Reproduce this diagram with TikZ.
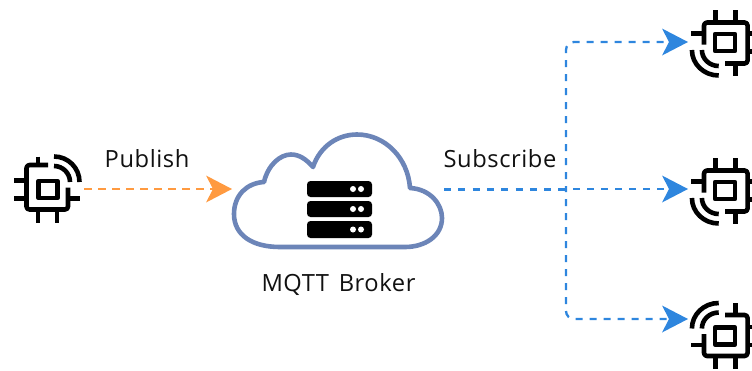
\documentclass[tikz,border=0pt]{standalone}
\usepackage{fontspec}
\setmainfont[LetterSpace=2.4]{Open Sans}
\usetikzlibrary{arrows.meta}
\definecolor{pubcol}{HTML}{FF9A40}
\definecolor{subcol}{HTML}{2E86DE}
\definecolor{cloudcol}{HTML}{6C85B8}
\definecolor{inkcol}{HTML}{111111}
\tikzset{
  chipline/.style={draw=black,line width=4.6pt,line join=round},
  pin/.style={draw=black,line width=4.6pt},
  wave/.style={draw=black,line width=4.6pt},
  pubarrow/.style={draw=pubcol,line width=2.8pt,dash pattern=on 7.5pt off 6.5pt,
    -{Stealth[length=26pt,width=27pt,inset=7pt,line width=0pt,fill=pubcol]}},
  subarrow/.style={draw=subcol,line width=2.3pt,dash pattern=on 7pt off 7pt,rounded corners=8pt,
    -{Stealth[length=26pt,width=27pt,inset=7pt,line width=0pt,fill=subcol]}},
  subtrunk/.style={draw=subcol,line width=3pt,dash pattern=on 7pt off 7.3pt},
  cloudline/.style={draw=cloudcol,line width=4.6pt,line join=round},
  serverbar/.style={fill=black,rounded corners=3.5pt},
  dot/.style={fill=white},
  lbl/.style={text=inkcol,font=\fontsize{23.7}{28}\selectfont,inner sep=0pt},
}
% x, y, xscale, yscale, far edge of the body
\newcommand{\chipicon}[5]{%
  \begin{scope}[shift={(#1,#2)},xscale=#3,yscale=#4]
    \draw[chipline,rounded corners=3pt] (0,#5) -- (-21.5,#5) -- (-21.5,20) -- (20,20) -- (20,-2);
    \draw[chipline] (-9.5,-8.5) rectangle (9.5,8.5);
    \draw[pin] (-10,-33) -- (-10,#5);
    \draw[pin] (-10,20) -- (-10,33);
    \draw[pin] (9,20) -- (9,33);
    \draw[pin] (-34,-9) -- (-21.5,-9);
    \draw[pin] (-34,9) -- (-21.5,9);
    \draw[pin] (20,9) -- (32,9);
    \draw[wave] (6,-23.5) .. controls (14.8,-23.5) and (22,-16.3) .. (22,-7.5);
    \draw[wave] (6,-33) .. controls (20.1,-33) and (31.5,-21.6) .. (31.5,-7.5);
  \end{scope}}
\begin{document}
\begin{tikzpicture}[x=1pt,y=-1pt]
\useasboundingbox (0,0) rectangle (752,370);
% icons
\chipicon{48}{189.5}{1}{1}{-24.5}
\chipicon{725}{42.5}{-1.05}{-1}{-21}
\chipicon{725}{190.5}{-1.05}{-1}{-21}
\chipicon{725}{336}{-1.05}{1}{-21}
% cloud
\draw[cloudline] (280,247) .. controls (252,247) and (234,235) .. (234,214)
  .. controls (234,195) and (247,183) .. (264,182)
  .. controls (268,165) and (280,154.5) .. (291,154.5)
  .. controls (299,154.5) and (306,159) .. (313,167)
  .. controls (320,146) and (338,134.5) .. (357,134.5)
  .. controls (385,134.5) and (408,158) .. (410,188)
  .. controls (430,189) and (442,204) .. (442,218)
  .. controls (442,236) and (425,247) .. (405,247) -- cycle;
% server
\foreach \ya/\yb/\n in {181/197/a,201/217/b,221/238/c}{
  \fill[serverbar] (307,\ya) rectangle (372,\yb);
  \fill[dot] (353,{(\ya+\yb)/2}) circle (3pt);
  \fill[dot] (361,{(\ya+\yb)/2}) circle (3pt);
}
% labels
\node[lbl] (publish) at (147,159) {Publish};
\node[lbl] (subscribe) at (500,159) {Subscribe};
\node[lbl] (broker) at (338.5,284.5) {MQTT\hspace{3pt} Broker};
% connection points
\coordinate (pubout) at (84,189);
\coordinate (brokerin) at (232,189);
\coordinate (brokerout) at (444,189);
\coordinate (fork) at (566,189);
\coordinate (subtop) at (688,42);
\coordinate (submid) at (688,189);
\coordinate (subbot) at (688,319);
\draw[pubarrow] (pubout) -- (brokerin);
\draw[subtrunk] (brokerout) -- (fork);
\draw[subarrow,dash phase=4pt] (fork) -- (fork |- subtop) -- (subtop);
\draw[subarrow,dash phase=7pt] (fork) -- (submid);
\draw[subarrow,dash phase=4pt] (fork) -- (fork |- subbot) -- (subbot);
\end{tikzpicture}
\end{document}
